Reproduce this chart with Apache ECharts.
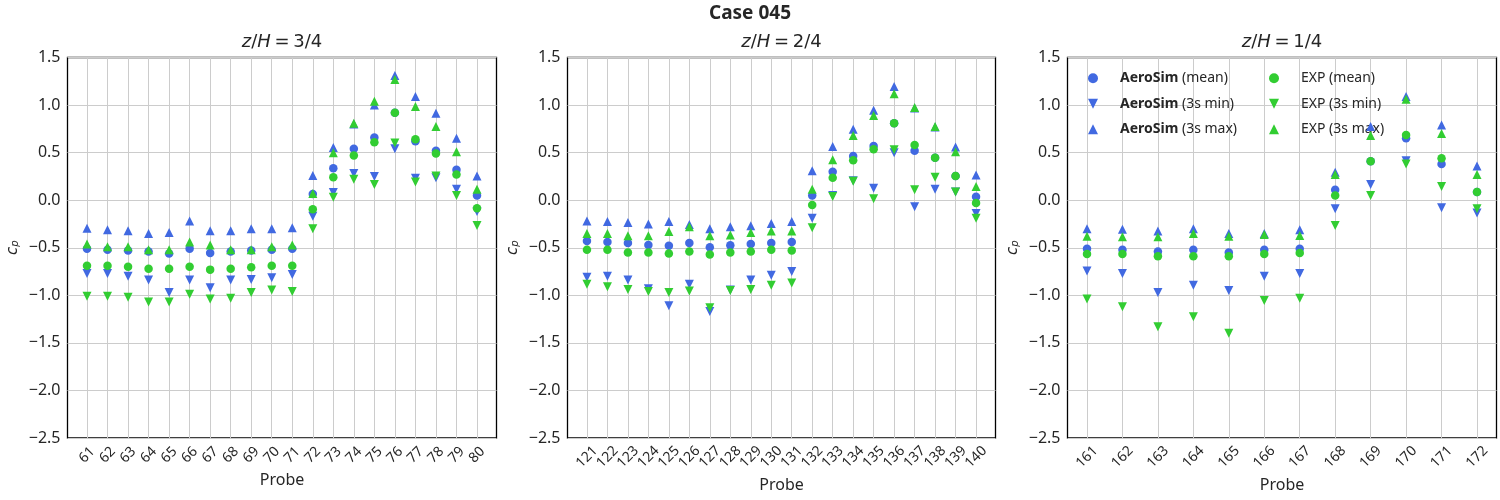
<!DOCTYPE html>
<html><head><meta charset="utf-8">
<script src="https://cdn.jsdelivr.net/npm/echarts@6/dist/echarts.min.js"></script>
<style>html,body{margin:0;padding:0;background:#fff}#c{width:1500px;height:500px}</style>
</head><body><div id="c"></div><script>
// ---- data ----
const probes1 = [61,62,63,64,65,66,67,68,69,70,71,72,73,74,75,76,77,78,79,80];
const probes2 = [121,122,123,124,125,126,127,128,129,130,131,132,133,134,135,136,137,138,139,140];
const probes3 = [161,162,163,164,165,166,167,168,169,170,171,172];

const aeroMean1 = [-0.51,-0.52,-0.53,-0.54,-0.56,-0.51,-0.555,-0.54,-0.53,-0.52,-0.51,0.066,0.337,0.54,0.66,0.92,0.62,0.52,0.32,0.05];
const aeroMin1  = [-0.77,-0.77,-0.80,-0.84,-0.97,-0.84,-0.92,-0.84,-0.835,-0.815,-0.78,-0.17,0.08,0.28,0.25,0.54,0.23,0.235,0.115,-0.12];
const aeroMax1  = [-0.295,-0.31,-0.32,-0.35,-0.34,-0.22,-0.32,-0.32,-0.30,-0.30,-0.29,0.26,0.555,0.80,1.00,1.31,1.09,0.915,0.65,0.255];
const expMean1  = [-0.69,-0.69,-0.70,-0.72,-0.72,-0.70,-0.73,-0.72,-0.705,-0.69,-0.69,-0.095,0.24,0.47,0.61,0.92,0.64,0.49,0.27,-0.085];
const expMin1   = [-1.01,-1.01,-1.02,-1.07,-1.07,-0.99,-1.04,-1.03,-0.97,-0.945,-0.96,-0.30,0.03,0.22,0.165,0.60,0.19,0.255,0.05,-0.265];
const expMax1   = [-0.46,-0.49,-0.49,-0.52,-0.52,-0.44,-0.47,-0.52,-0.52,-0.49,-0.47,0.07,0.50,0.81,1.04,1.27,0.985,0.775,0.51,0.115];

const aeroMean2 = [-0.43,-0.44,-0.45,-0.47,-0.48,-0.45,-0.495,-0.475,-0.46,-0.45,-0.44,0.05,0.30,0.465,0.57,0.81,0.52,0.445,0.255,0.035];
const aeroMin2  = [-0.81,-0.80,-0.84,-0.93,-1.11,-0.885,-1.17,-0.945,-0.84,-0.79,-0.75,-0.19,0.05,0.205,0.125,0.50,-0.07,0.115,0.085,-0.14];
const aeroMax2  = [-0.22,-0.225,-0.235,-0.25,-0.225,-0.255,-0.30,-0.28,-0.27,-0.245,-0.225,0.31,0.565,0.745,0.945,1.195,0.97,0.77,0.56,0.265];
const expMean2  = [-0.52,-0.52,-0.55,-0.55,-0.56,-0.54,-0.57,-0.55,-0.54,-0.52,-0.53,-0.05,0.235,0.42,0.535,0.81,0.58,0.445,0.255,-0.03];
const expMin2   = [-0.885,-0.91,-0.94,-0.96,-0.97,-0.955,-1.13,-0.95,-0.94,-0.895,-0.87,-0.29,0.04,0.20,0.015,0.53,0.11,0.24,0.085,-0.19];
const expMax2   = [-0.35,-0.35,-0.375,-0.375,-0.33,-0.28,-0.375,-0.365,-0.34,-0.325,-0.325,0.115,0.425,0.68,0.89,1.12,0.975,0.775,0.51,0.145];

const aeroMean3 = [-0.51,-0.52,-0.54,-0.52,-0.55,-0.52,-0.51,0.11,0.41,0.65,0.38,0.085];
const aeroMin3  = [-0.745,-0.77,-0.97,-0.895,-0.95,-0.80,-0.77,-0.09,0.165,0.415,-0.08,-0.135];
const aeroMax3  = [-0.30,-0.305,-0.325,-0.30,-0.35,-0.35,-0.31,0.295,0.775,1.09,0.79,0.36];
const expMean3  = [-0.565,-0.565,-0.59,-0.59,-0.59,-0.565,-0.555,0.05,0.41,0.685,0.44,0.085];
const expMin3   = [-1.04,-1.12,-1.33,-1.225,-1.40,-1.055,-1.03,-0.265,0.05,0.38,0.145,-0.09];
const expMax3   = [-0.38,-0.385,-0.385,-0.35,-0.38,-0.36,-0.37,0.27,0.68,1.06,0.70,0.27];

const panelLevels = ['3/4','2/4','1/4'];
const seriesNames = ['AeroSim (mean)','AeroSim (3s min)','AeroSim (3s max)','EXP (mean)','EXP (3s min)','EXP (3s max)'];
const mainTitle = 'Case 045';
const xName = 'Probe';

// ---- chart ----
const BLUE = '#4169E1', GREEN = '#32CD32';
const DOWN = 'path://M0,0L2,0L1,2Z';
const FONT = 'Noto Sans';
const TXT = '#262626';
const panels = [
  {probes: probes1, xmin: 60.05, xmax: 80.95, vals: [aeroMean1,aeroMin1,aeroMax1,expMean1,expMin1,expMax1], left: 67.5, width: 429, lm: 17},
  {probes: probes2, xmin: 120.05, xmax: 140.95, vals: [aeroMean2,aeroMin2,aeroMax2,expMean2,expMin2,expMax2], left: 567.5, width: 428, lm: 19},
  {probes: probes3, xmin: 160.45, xmax: 172.55, vals: [aeroMean3,aeroMin3,aeroMax3,expMean3,expMin3,expMax3], left: 1067.5, width: 429, lm: 19}
];
const symbols = ['circle', DOWN, 'triangle', 'circle', DOWN, 'triangle'];
const sizes = [8.5, 9, 9, 8.5, 9, 9];
const colors = [BLUE, BLUE, BLUE, GREEN, GREEN, GREEN];

const grid = [], xAxis = [], yAxis = [], series = [], title = [];
title.push({text: mainTitle, left: 750, top: 4, textAlign: 'center', padding: 0,
  textStyle: {fontFamily: FONT, fontSize: 19, fontWeight: 'bold', color: TXT}});
panels.forEach((p, i) => {
  grid.push({left: p.left, top: 57.5, width: p.width, height: 380.5, show: true,
    borderColor: '#000', borderWidth: 1.3, backgroundColor: 'transparent'});
  title.push({text: '{i|z}{n|/}{i|H}{n|\u2009=\u2009' + panelLevels[i] + '}', left: p.left + p.width / 2, top: 33,
    textAlign: 'center', padding: 0,
    textStyle: {fontWeight: 'normal', rich: {
      i: {fontFamily: 'DejaVu Sans', fontStyle: 'italic', fontWeight: 'normal', fontSize: 18, color: TXT},
      n: {fontFamily: 'DejaVu Sans', fontWeight: 'normal', fontSize: 18, color: TXT}}}});
  xAxis.push({gridIndex: i, type: 'value', min: p.xmin, max: p.xmax,
    axisLine: {show: false}, axisTick: {show: false, customValues: p.probes},
    axisLabel: {customValues: p.probes, rotate: 45, align: 'center', verticalAlign: 'middle',
      showMinLabel: true, showMaxLabel: true, hideOverlap: false,
      fontSize: 14, fontFamily: FONT, color: TXT, margin: p.lm},
    splitLine: {show: true, lineStyle: {color: '#cccccc', width: 1}},
    name: xName, nameLocation: 'middle', nameGap: 34,
    nameTextStyle: {fontSize: 16, fontFamily: FONT, color: TXT}});
  yAxis.push({gridIndex: i, type: 'value', min: -2.5, max: 1.5, interval: 0.5,
    axisLine: {show: false}, axisTick: {show: false},
    axisLabel: {fontSize: 16, fontFamily: FONT, color: TXT, margin: 7,
      formatter: v => (v < 0 ? '\u2212' : '') + Math.abs(v).toFixed(1)},
    splitLine: {show: true, lineStyle: {color: '#cccccc', width: 1}},
    name: '{c|c}{p|p}', nameLocation: 'middle', nameGap: 47, nameRotate: 90,
    nameTextStyle: {rich: {
      c: {fontFamily: 'DejaVu Sans', fontStyle: 'italic', fontSize: 15, color: TXT, verticalAlign: 'bottom', lineHeight: 20},
      p: {fontFamily: 'DejaVu Sans', fontStyle: 'italic', fontSize: 10, color: TXT, verticalAlign: 'bottom', lineHeight: 14}}}});
  p.vals.forEach((arr, k) => {
    series.push({type: 'scatter', name: seriesNames[k], xAxisIndex: i, yAxisIndex: i,
      symbol: symbols[k], symbolSize: sizes[k], itemStyle: {color: colors[k], opacity: 1},
      data: p.probes.map((pr, j) => [pr, arr[j]]),
      emphasis: {disabled: true}, z: 2 + k});
  });
});

const legendText = {fontSize: 14, fontFamily: FONT, color: TXT, lineHeight: 16, padding: [0, 0, 0, 17],
  rich: {b: {fontWeight: 'bold', fontSize: 14, fontFamily: FONT, color: TXT, lineHeight: 16},
         n: {fontSize: 14, fontFamily: FONT, color: TXT, lineHeight: 16}}};
const legend = [
  {orient: 'vertical', left: 1088, top: 70.3, padding: 0, itemWidth: 10, itemHeight: 10, itemGap: 9.5,
   data: seriesNames.slice(0, 3).map((n, k) => ({name: n, icon: symbols[k]})),
   textStyle: legendText, selectedMode: false,
   formatter: n => '{b|AeroSim}{n| ' + n.slice(8) + '}'},
  {orient: 'vertical', left: 1269, top: 70.3, padding: 0, itemWidth: 10, itemHeight: 10, itemGap: 9.5,
   data: seriesNames.slice(3).map((n, k) => ({name: n, icon: symbols[k + 3]})),
   textStyle: legendText, selectedMode: false,
   formatter: n => '{n|' + n + '}'}
];

const chart = echarts.init(document.getElementById('c'), null, {renderer: 'canvas'});
chart.setOption({animation: false, backgroundColor: '#fff', title, grid, xAxis, yAxis, series, legend});
</script></body></html>
